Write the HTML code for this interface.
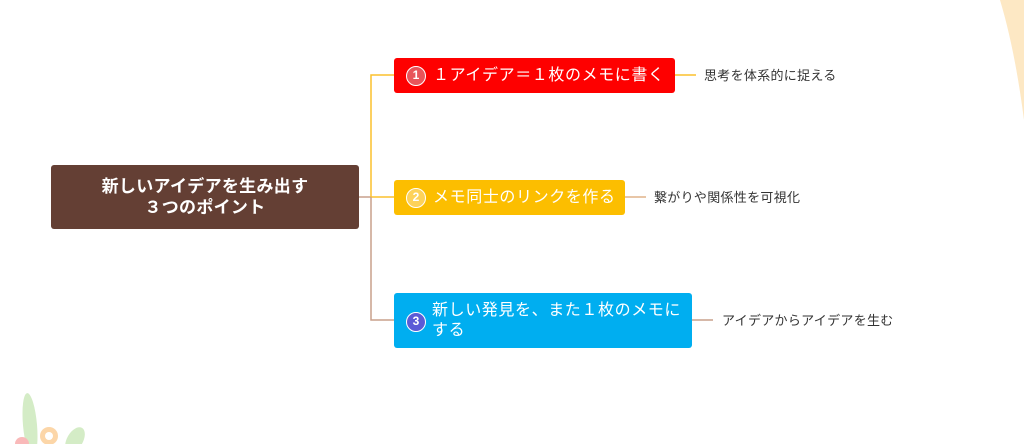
<!DOCTYPE html>
<html><head><meta charset="utf-8"><style>
body{margin:0;width:1024px;height:444px;background:#fff;position:relative;overflow:hidden;font-family:"Liberation Sans","Noto Sans CJK JP",sans-serif}
.n{position:absolute;border-radius:3px;color:#fff;font-size:16px;letter-spacing:0.6px;box-sizing:border-box}
.c{display:inline-block;width:20px;height:20px;border-radius:50%;border:1.5px solid #fff;box-sizing:border-box;font-size:12px;font-weight:bold;text-align:center;line-height:17px;vertical-align:middle;margin-right:7px;letter-spacing:0}
.l{position:absolute;font-size:13px;color:#333;line-height:16px;letter-spacing:0.3px}
.h{position:absolute}
</style></head><body>
<svg class="h" width="1024" height="444" style="left:0;top:0">
<path d="M1000 0 Q1015 50 1024 120 L1024 0 Z" fill="#fde8c4"/>
<ellipse cx="30" cy="425" rx="7" ry="32" fill="#d4ecc6" transform="rotate(-5 30 425)"/>
<ellipse cx="75" cy="440" rx="8" ry="14" fill="#d4ecc6" transform="rotate(30 75 440)"/>
<circle cx="49" cy="436" r="9" fill="#fcd6a8"/><circle cx="49" cy="436" r="4" fill="#fff"/>
<circle cx="22" cy="444" r="7" fill="#f9b9b9"/>
<line x1="359" y1="197" x2="371" y2="197" stroke="#c9a08c" stroke-width="1.5"/>
<path d="M394 75 H371 V197 H394" fill="none" stroke="#fbc02d" stroke-width="1.5"/>
<path d="M371 197 V320 H394" fill="none" stroke="#c9a08c" stroke-width="1.5"/>
<line x1="675" y1="75" x2="696" y2="75" stroke="#fbc02d" stroke-width="1.5"/>
<line x1="625" y1="197" x2="646" y2="197" stroke="#e0b48a" stroke-width="1.5"/>
<line x1="692" y1="320" x2="713" y2="320" stroke="#c9a08c" stroke-width="1.5"/>
</svg>
<div class="n" style="left:51px;top:165px;width:308px;height:64px;background:#643f34;font-weight:bold;text-align:center;padding-top:11px;line-height:21px;font-size:17px;letter-spacing:0.3px">新しいアイデアを生み出す<br>３つのポイント</div>
<div class="n" style="left:394px;top:58px;width:281px;height:35px;background:#fe0000;padding:7px 0 0 12px;line-height:21px"><span class="c" style="background:#e8545a">1</span>１アイデア＝１枚のメモに書く</div>
<div class="n" style="left:394px;top:180px;width:231px;height:35px;background:#fcbe00;padding:7px 0 0 12px;line-height:21px"><span class="c" style="background:#fdd25a">2</span>メモ同士のリンクを作る</div>
<div class="n" style="left:394px;top:293px;width:298px;height:55px;background:#00aef0;padding:8px 0 0 12px;line-height:20px"><span class="c" style="background:#5b5bd6;position:absolute;top:19px;left:12px">3</span><div style="margin-left:26px">新しい発見を、また１枚のメモに<br>する</div></div>
<div class="l" style="left:704px;top:68px">思考を体系的に捉える</div>
<div class="l" style="left:654px;top:190px">繋がりや関係性を可視化</div>
<div class="l" style="left:722px;top:313px">アイデアからアイデアを生む</div>
</body></html>
